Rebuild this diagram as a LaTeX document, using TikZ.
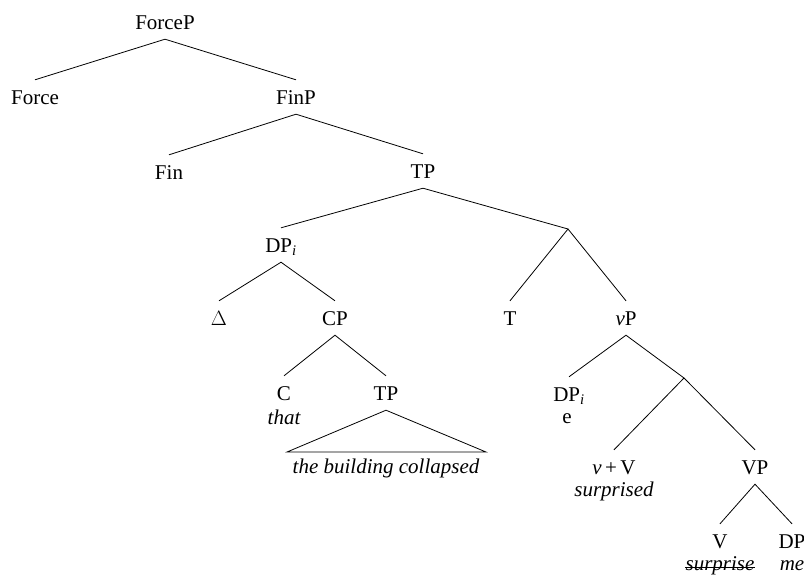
\documentclass[tikz,border=0pt]{standalone}
\usepackage{fontspec}
\setmainfont{Liberation Serif}
\begin{document}
\begin{tikzpicture}[x=1pt,y=-1pt,
  lab/.style={font=\fontsize{21}{25}\selectfont, inner sep=0pt, text height=14pt, text depth=0pt, minimum height=34pt},
  gloss/.style={font=\fontsize{21}{25}\selectfont\itshape, inner sep=0pt, anchor=base},
  edge/.style={line width=0.8pt}]
\useasboundingbox (0,0) rectangle (804,574);
\node[lab] (forcep) at (165,22) {ForceP};
\node[lab] (force) at (35,97) {Force};
\node[lab] (finp) at (296,97) {FinP};
\node[lab] (fin) at (169,172) {Fin};
\node[lab] (tp) at (423,171) {TP};
\coordinate (tbar) at (568,229);
\node[lab] (dpi) at (281,245) {DP\textsubscript{\textit{i}}};
\node[lab] (delta) at (219,318) {$\Delta$};
\node[lab] (cp) at (335,318) {CP};
\node[lab] (c) at (284,393) {C};
\node[gloss] (that) at (284,424) {that};
\node[lab] (tp2) at (386,393) {TP};
\coordinate (triL) at (287,452);
\coordinate (triR) at (486,452);
\node[gloss] (bldg) at (386,473) {the building collapsed};
\node[lab] (t) at (510,318) {T};
\node[lab] (vp) at (626,318) {\textit{v}P};
\node[lab] (dpi2) at (569,394) {DP\textsubscript{\textit{i}}};
\node[gloss,font=\fontsize{21}{25}\selectfont] (e) at (567,423) {e};
\coordinate (vbar) at (684,378);
\node[lab] (vv) at (614,467) {\textit{v}\,+\,V};
\node[gloss] (surprised) at (614,496) {surprised};
\node[lab] (vpp) at (755,467) {VP};
\node[lab] (v) at (720,541) {V};
\node[gloss] (surprise) at (720,570) {surprise};
\node[lab] (dp) at (792,541) {DP};
\node[gloss] (me) at (792,570) {me};
\draw[edge] (surprise.mid west) -- (surprise.mid east);
\draw[edge] (force.north) -- (forcep.south) -- (finp.north);
\draw[edge] (fin.north) -- (finp.south) -- (tp.north);
\draw[edge] (dpi.north) -- (tp.south) -- (tbar);
\draw[edge] (delta.north) -- (dpi.south) -- (cp.north);
\draw[edge] (c.north) -- (cp.south) -- (tp2.north);
\draw[edge] (triL) -- (tp2.south) -- (triR) -- cycle;
\draw[edge] (t.north) -- (tbar) -- (vp.north);
\draw[edge] (dpi2.north) -- (vp.south) -- (vbar);
\draw[edge] (vv.north) -- (vbar) -- (vpp.north);
\draw[edge] (v.north) -- (vpp.south) -- (dp.north);
\end{tikzpicture}
\end{document}
